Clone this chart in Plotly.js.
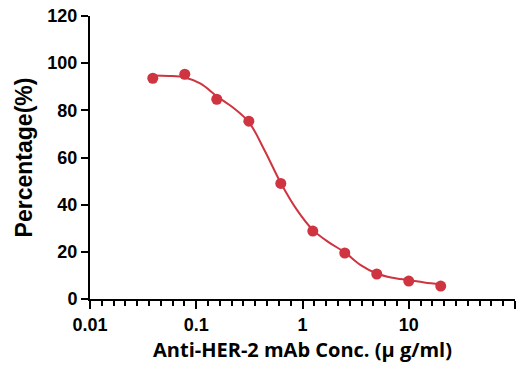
<!DOCTYPE html>
<html>
<head>
<meta charset="utf-8">
<script src="https://cdn.plot.ly/plotly-3.0.1.min.js"></script>
<style>html,body{margin:0;padding:0;background:#fff;}#chart{width:529px;height:369px;}</style>
</head>
<body>
<div id="chart"></div>
<script>
// Measured points (concentration in µg/ml, percentage)
const concentrations = [0.039, 0.078, 0.156, 0.3125, 0.625, 1.25, 2.5, 5, 10, 20];
const percentages = [93.6, 95.3, 84.7, 75.4, 49.0, 28.8, 19.5, 10.6, 7.6, 5.5];
// Fitted curve
const curveX = [0.039, 0.055, 0.078, 0.11, 0.156, 0.22, 0.3125, 0.44, 0.625, 0.88, 1.25, 1.77, 2.5, 3.5, 5, 7, 10, 14, 20];
const curveY = [94.8, 94.6, 93.9, 91.3, 86.0, 81.3, 75.0, 63.0, 49.2, 38.0, 29.3, 24.0, 19.8, 14.5, 10.8, 9.0, 8.0, 7.0, 6.2];
// Axis ticks
const xTickVals = [0.01, 0.1, 1, 10, 100];
const xTickText = ['0.01', '0.1', '1', '10', '100'];
const yTickVals = [0, 20, 40, 60, 80, 100, 120];

const red = '#cf3441';
const traces = [
  {x: curveX, y: curveY, mode: 'lines', type: 'scatter',
   line: {color: red, width: 2, shape: 'spline', smoothing: 1}, hoverinfo: 'skip'},
  {x: concentrations, y: percentages, mode: 'markers', type: 'scatter',
   marker: {color: red, size: 11}}
];
const tickFont = {family: 'Liberation Sans, Arial, sans-serif', size: 18, color: '#000', weight: 'bold'};
const layout = {
  width: 529, height: 369,
  margin: {l: 90, r: 14, t: 16, b: 70},
  paper_bgcolor: '#fff', plot_bgcolor: '#fff',
  showlegend: false,
  xaxis: {
    type: 'log', range: [-2, 2], tickmode: 'array', tickvals: xTickVals, ticktext: xTickText,
    ticks: 'outside', ticklen: 8, tickwidth: 2, tickcolor: '#000',
    showline: true, linecolor: '#000', linewidth: 2, showgrid: false, zeroline: false,
    tickfont: tickFont,
    minor: {tick0: 0, dtick: 1 / 9, ticks: 'outside', ticklen: 5, tickwidth: 1.5, tickcolor: '#000', showgrid: false},
    title: {text: 'Anti-HER-2 mAb Conc. (\u03bc g/ml)', standoff: 9,
            font: {family: 'Open Sans, sans-serif', size: 20, color: '#000', weight: 'bold'}}
  },
  yaxis: {
    range: [0, 120], tickmode: 'array', tickvals: yTickVals,
    ticks: 'outside', ticklen: 7, tickwidth: 2, tickcolor: '#000',
    showline: true, linecolor: '#000', linewidth: 2, showgrid: false, zeroline: false,
    tickfont: tickFont,
    title: {text: 'Percentage(%)', standoff: 8,
            font: {family: 'Liberation Sans, Arial, sans-serif', size: 23, color: '#000', weight: 'bold'}}
  }
};
Plotly.newPlot('chart', traces, layout, {displayModeBar: false});
</script>
</body>
</html>
